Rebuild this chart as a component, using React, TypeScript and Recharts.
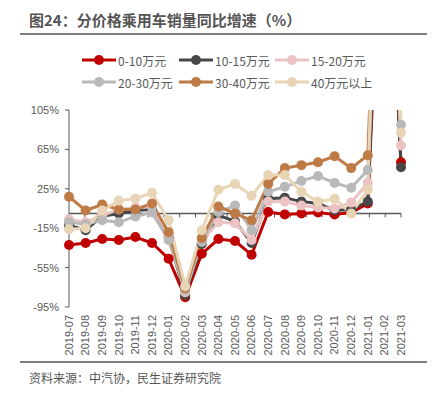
import { LineChart, Line, XAxis, YAxis, ReferenceLine } from "recharts";

const MONTHS = [
  "2019-07", "2019-08", "2019-09", "2019-10", "2019-11", "2019-12",
  "2020-01", "2020-02", "2020-03", "2020-04", "2020-05", "2020-06",
  "2020-07", "2020-08", "2020-09", "2020-10", "2020-11", "2020-12",
  "2021-01", "2021-02", "2021-03",
];

// 同比增速 %，2021-02 远超坐标上限（被裁剪）
const S_0_10 = [-32, -30, -26, -27, -24, -30, -46, -85, -41, -26, -28, -42, 1.5, -1, 0, 1, -1, 1, 10, 380, 52];
const S_10_15 = [-12, -17, -3, 0, 3, 4, -24, -83, -31, -2, -8, -30, 15, 16, 12, 10, 3, 4, 12, 420, 47];
const S_15_20 = [-6, -9, -2, 4, 6, 7, -22, -80, -28, -9, -10, -27, 12, 12, 8, 6, 5, 11, 31, 450, 69];
const S_20_30 = [-9, -11, -7, -9, -3, 1, -27, -78, -29, 1.5, 8, -17, 22, 27, 33, 38, 31, 26, 44, 480, 90];
const S_30_40 = [17, 3, 9, 4, 4, 10, -19, -76, -25, 7, 0, -7, 30, 46, 49, 52, 58, 46, 59, 500, 120];
const S_40_UP = [-16, -15, 3, 13, 15, 21, -7, -74, -17, 24, 30, 18, 39, 39, 22, 12, 15, 0, 24, 600, 82];

const Y_TICKS = [-95, -55, -15, 25, 65, 105];

const SERIES = [
  { key: "a", name: "0-10万元", color: "#C00000", values: S_0_10 },
  { key: "b", name: "10-15万元", color: "#474747", values: S_10_15 },
  { key: "c", name: "15-20万元", color: "#EBC3C3", values: S_15_20 },
  { key: "d", name: "20-30万元", color: "#B9B9B9", values: S_20_30 },
  { key: "e", name: "30-40万元", color: "#BF7B46", values: S_30_40 },
  { key: "f", name: "40万元以上", color: "#E8D5B5", values: S_40_UP },
];

const data = MONTHS.map((m, i) => {
  const row: Record<string, number | string> = { month: m };
  SERIES.forEach((s) => (row[s.key] = s.values[i]));
  return row;
});

const CJK = '"Noto Sans CJK SC", "Noto Sans", sans-serif';
const LATIN = '"Liberation Sans", Arial, sans-serif';
const TEXT = "#595959";

// 零轴 + 类目分隔刻度
function ZeroAxis(props: any) {
  const { x1, x2, y1 } = props;
  const step = (x2 - x1) / MONTHS.length;
  return (
    <g>
      <line x1={x1} x2={x2} y1={y1} y2={y1} stroke={TEXT} strokeWidth={1.5} />
      {MONTHS.map((_, i) => (
        <line key={i} x1={x1 + step * (i + 1)} x2={x1 + step * (i + 1)} y1={y1} y2={y1 + 4} stroke={TEXT} strokeWidth={1} />
      ))}
    </g>
  );
}

function MonthTick({ x, y, payload }: any) {
  return (
    <text
      transform={`translate(${x},${y}) rotate(-90)`}
      textAnchor="end"
      dy="0.35em"
      fill={TEXT}
      fontSize={11}
      fontFamily={LATIN}
    >
      {payload.value}
    </text>
  );
}

export default function App() {
  return (
    <div style={{ position: "absolute", left: 0, top: 0, width: 433, height: 399, background: "#fff" }}>
      <div style={{ position: "absolute", left: 0, top: 0 }}>
        <LineChart width={433} height={399} data={data} margin={{ top: 110, right: 32, bottom: 42, left: 0 }}>
          <XAxis
            dataKey="month"
            interval={0}
            axisLine={false}
            tickLine={false}
            tickSize={6}
            tickMargin={2}
            height={50}
            tick={<MonthTick />}
          />
          <YAxis
            type="number"
            domain={[-95, 105]}
            ticks={Y_TICKS}
            allowDataOverflow
            width={69}
            tickFormatter={(v: number) => `${v}%`}
            axisLine={{ stroke: TEXT }}
            tickLine={{ stroke: TEXT }}
            tickSize={4}
            tickMargin={6}
            tick={{ fill: TEXT, fontSize: 11, fontFamily: LATIN }}
          />
          <ReferenceLine y={0} shape={ZeroAxis} />
          {SERIES.map((s) => (
            <Line
              key={s.key}
              dataKey={s.key}
              name={s.name}
              type="linear"
              stroke={s.color}
              strokeWidth={3}
              dot={{ r: 5, fill: s.color, stroke: s.color, strokeWidth: 0 }}
              activeDot={false}
              isAnimationActive={false}
            />
          ))}
        </LineChart>
      </div>

      <div
        style={{
          position: "absolute", left: 29, top: 9, fontFamily: CJK, fontWeight: 700,
          fontSize: 15, color: "#555", whiteSpace: "nowrap", lineHeight: "22px",
        }}
      >
        图24：分价格乘用车销量同比增速（%）
      </div>
      <div style={{ position: "absolute", left: 20, top: 33, width: 407, height: 2, background: "#808080" }} />

      <div
        style={{
          position: "absolute", left: 82, top: 51, display: "grid",
          gridTemplateColumns: "97px 96px 110px", rowGap: 4,
          fontFamily: CJK, fontSize: 12, color: TEXT,
        }}
      >
        {SERIES.map((s) => (
          <div key={s.key} style={{ display: "flex", alignItems: "center", height: 18, whiteSpace: "nowrap" }}>
            <svg width={34} height={12} style={{ marginRight: 2 }}>
              <line x1={0} x2={34} y1={6} y2={6} stroke={s.color} strokeWidth={3} />
              <circle cx={17} cy={6} r={5} fill={s.color} />
            </svg>
            <span>{s.name}</span>
          </div>
        ))}
      </div>

      <div style={{ position: "absolute", left: 20, top: 361, width: 407, height: 2, background: "#808080" }} />
      <div
        style={{
          position: "absolute", left: 29, top: 369, fontFamily: CJK, fontSize: 12,
          color: "#555", whiteSpace: "nowrap", lineHeight: "18px",
        }}
      >
        资料来源：中汽协，民生证券研究院
      </div>
    </div>
  );
}
